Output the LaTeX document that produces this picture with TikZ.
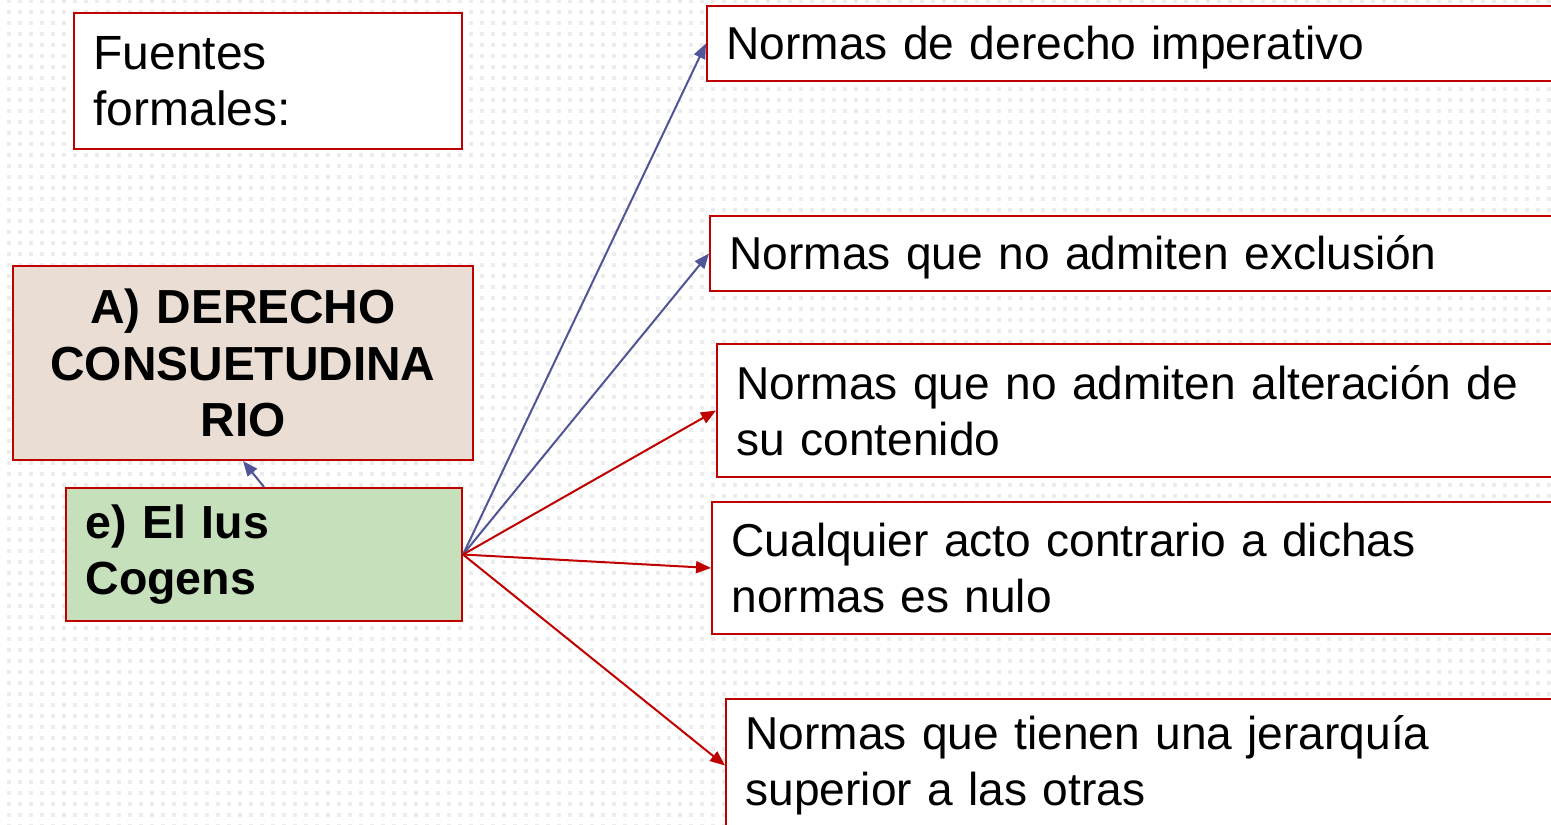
\documentclass[tikz,border=0pt]{standalone}
\usepackage{fontspec}
\setmainfont{Liberation Sans}
\usetikzlibrary{arrows.meta}
\definecolor{cRed}{HTML}{C00000}
\definecolor{cBlue}{HTML}{4F5596}
\definecolor{cSand}{HTML}{EADDD4}
\definecolor{cLeaf}{HTML}{C5E0BB}
\definecolor{cDot}{HTML}{ECECEC}

\begin{document}
\begin{tikzpicture}[x=1pt, y=-1pt,
  box/.style={draw=cRed, line width=2pt, fill=white, anchor=north west, inner xsep=19.5pt, inner ysep=0pt,
    align=left, font=\fontsize{46.1}{56.5}\selectfont},
  link/.style={line width=2pt, -{Triangle[length=15pt, width=12pt]}},
  dotrow/.style={cDot, line width=4pt, dash pattern=on 4pt off 7pt, dash phase=4.5pt}
]
\useasboundingbox (0,0) rectangle (1551,825);
\fill[white] (0,0) rectangle (1551,825);
\foreach \r in {0,...,75} {\draw[dotrow] (0,\r*11+1) -- (1551,\r*11+1);}

\node[box, text width=349pt, minimum height=136pt, font=\fontsize{48}{56.5}\selectfont] (fuentes) at (73,12) {Fuentes\\formales:};
\node[box, fill=cSand, align=center, text width=421pt, minimum height=194pt, font=\fontsize{47.8}{56.5}\selectfont\bfseries] (derecho) at (12,265) {A) DERECHO\\CONSUETUDINA\\RIO};
\node[box, fill=cLeaf, text width=357pt, minimum height=133pt, font=\fontsize{46.5}{56.5}\selectfont\bfseries] (cogens) at (65,487) {e) El Ius\\Cogens};

\node[box, text width=815pt, minimum height=75pt, text depth=2pt] (n1) at (706,5) {Normas de derecho imperativo};
\node[box, text width=812pt, minimum height=75pt, text depth=2pt] (n2) at (709,215) {Normas que no admiten exclusión};
\node[box, text width=805pt, minimum height=133pt] (n3) at (716,343) {Normas que no admiten alteración de\\su contenido};
\node[box, text width=810pt, minimum height=132pt] (n4) at (711,501) {Cualquier acto contrario a dichas\\normas es nulo};
\node[box, text width=796pt, minimum height=133pt] (n5) at (725,698) {Normas que tienen una jerarquía\\superior a las otras};

\draw[link, cBlue] (cogens.north) -- (derecho.south);
\foreach \n in {n1,n2} \draw[link, cBlue] (cogens.east) -- (\n.west);
\foreach \n in {n3,n4,n5} \draw[link, cRed] (cogens.east) -- (\n.west);
\end{tikzpicture}
\end{document}
